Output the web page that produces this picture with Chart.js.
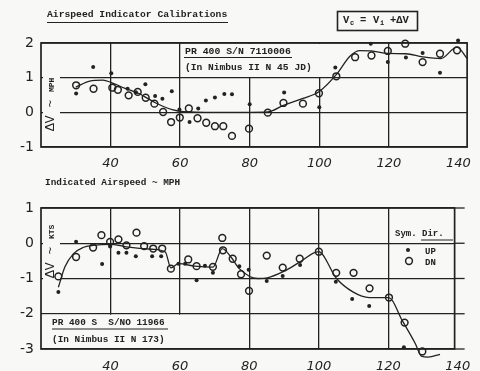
<!DOCTYPE html>
<html>
<head>
<meta charset="utf-8">
<script src="https://cdn.jsdelivr.net/npm/chart.js@4.4.1/dist/chart.umd.min.js"></script>
<style>
  html, body { margin: 0; padding: 0; background: #f8f8f6; }
  #wrap { position: relative; width: 480px; height: 371px; overflow: hidden; }
  canvas { position: absolute; left: 0; }
  #mphChart { top: 0; }
  #ktsChart { top: 190px; }
</style>
</head>
<body>
<div id="wrap">
  <canvas id="mphChart" width="480" height="190"></canvas>
  <canvas id="ktsChart" width="480" height="181"></canvas>
</div>
<script>
// indicated airspeed ticks shared by both panels
const speedTicks = [40, 60, 80, 100, 120, 140];

// upper panel, PR 400 S/N 7110006, delta V in MPH
const mphUp = [[30.1, 0.54], [35, 1.31], [40.2, 1.13], [44.9, 0.68], [47.3, 0.58], [50, 0.81],
  [52.8, 0.47], [54.9, 0.39], [57.6, 0.61], [59.8, 0.08], [62.7, -0.28], [65.2, 0.11],
  [67.4, 0.34], [70, 0.43], [72.7, 0.53], [74.9, 0.52], [80, 0.23], [89.9, 0.57],
  [100, 0.15], [104.6, 1.29], [114.8, 1.98], [119.7, 1.45], [124.9, 1.58], [129.7, 1.71],
  [134.7, 1.14], [139.9, 2.07]];
const mphDn = [[30.1, 0.78], [35.1, 0.68], [40.5, 0.71], [42.1, 0.65], [45.2, 0.49], [47.8, 0.59],
  [50.1, 0.42], [52.6, 0.25], [55.1, 0.01], [57.4, -0.28], [59.9, -0.15], [62.5, 0.11],
  [65, -0.17], [67.5, -0.3], [70, -0.4], [72.4, -0.4], [74.9, -0.68], [79.8, -0.47],
  [85.2, -0.01], [89.7, 0.27], [95.3, 0.25], [99.9, 0.55], [104.9, 1.04], [110.3, 1.59],
  [115, 1.64], [119.7, 1.77], [124.7, 1.98], [129.7, 1.45], [134.7, 1.69], [139.6, 1.79]];
const mphFit = [[30, 0.73], [34, 0.9], [37.8, 0.93], [40.2, 0.86], [44, 0.7], [48.2, 0.54],
  [53, 0.27], [57.7, 0.08], [61, 0.02], [70, 0], [80, 0], [85.2, 0.01], [89.7, 0.2],
  [95.3, 0.4], [100, 0.6], [105, 1.1], [108.8, 1.62], [111.7, 1.78], [115, 1.77],
  [119.7, 1.7], [124.9, 1.69], [129.7, 1.6], [134.9, 1.55], [139.6, 1.88], [142.5, 1.55]];

// lower panel, PR 400 S S/NO 11966, delta V in KTS
const ktsUp = [[25, -1.38], [30.1, 0.04], [37.6, -0.59], [39.9, -0.09], [42.3, -0.27], [44.6, -0.27],
  [47.3, -0.37], [52, -0.37], [54.6, -0.37], [59.6, -0.58], [61.5, -0.58], [64.8, -1.05],
  [67.2, -0.64], [69.5, -0.84], [77.1, -0.65], [79.8, -0.75], [85, -1.07], [89.6, -0.93],
  [94.6, -0.62], [104.9, -1.09], [109.6, -1.58], [114.5, -1.78], [124.5, -2.95], [129.7, -3.6]];
const ktsDn = [[25, -0.94], [30.1, -0.39], [35, -0.12], [37.4, 0.23], [39.9, 0.04], [42.3, 0.11],
  [44.6, -0.06], [47.5, 0.3], [49.7, -0.08], [52.3, -0.15], [54.9, -0.15], [57.4, -0.72],
  [62.4, -0.46], [64.8, -0.65], [69.5, -0.67], [72.2, 0.15], [72.4, -0.2], [75.2, -0.44],
  [77.6, -0.88], [79.9, -1.35], [85, -0.35], [89.6, -0.69], [94.5, -0.44], [100, -0.24],
  [105, -0.84], [110, -0.84], [114.6, -1.28], [120.2, -1.54], [124.7, -2.25], [129.8, -3.07]];
const ktsFit = [[25, -1.25], [26.9, -0.67], [29.3, -0.3], [32.1, -0.12], [35, -0.06], [40, -0.03],
  [44.6, -0.1], [52, -0.17], [55.8, -0.25], [57.4, -0.7], [59.6, -0.58], [64.3, -0.65],
  [69.5, -0.68], [72.2, -0.15], [74.7, -0.39], [77.1, -0.72], [82.3, -1], [85.2, -0.98],
  [89.9, -0.8], [94.6, -0.53], [99.9, -0.24], [105.1, -1], [109.8, -1.38], [114.5, -1.54],
  [120.2, -1.54], [124, -2.19], [127.8, -2.85], [129.5, -3.2], [131.5, -3.23], [134.9, -3.15]];

const INK = '#222';
const PAPER = '#f8f8f6';
const MONO = '"Liberation Mono", "DejaVu Sans Mono", monospace';

const toXY = pts => pts.map(([x, y]) => ({ x, y }));

function txt(ctx, s, x, y, font, align) {
  ctx.font = font;
  ctx.textAlign = align || 'left';
  ctx.textBaseline = 'middle';
  ctx.fillStyle = INK;
  ctx.fillText(s, x, y);
}

function hline(ctx, x1, x2, y, w) {
  ctx.beginPath();
  ctx.lineWidth = w || 1;
  ctx.strokeStyle = INK;
  ctx.moveTo(x1, y);
  ctx.lineTo(x2, y);
  ctx.stroke();
}

// rotated "ΔV ~ unit" label inside the plot
function sideLabel(ctx, x, yBottom, unit) {
  ctx.save();
  ctx.fillStyle = PAPER;
  ctx.fillRect(x - 8, yBottom - 66, 17, 68);
  ctx.translate(x, yBottom);
  ctx.rotate(-Math.PI / 2);
  ctx.fillStyle = INK;
  ctx.textBaseline = 'middle';
  ctx.textAlign = 'left';
  ctx.font = '13px ' + MONO;
  ctx.fillText('ΔV ~ ', 0, 0);
  const w = ctx.measureText('ΔV ~ ').width;
  ctx.font = 'bold 8px ' + MONO;
  ctx.fillText(unit, w, 1);
  ctx.restore();
}

function frame(ctx, a) {
  ctx.save();
  ctx.strokeStyle = INK;
  ctx.lineWidth = 1.7;
  ctx.strokeRect(a.left, a.top, a.right - a.left, a.bottom - a.top);
  ctx.restore();
}

function datasets(up, dn, fit) {
  return [
    {
      data: toXY(fit), showLine: true, pointRadius: 0, borderColor: INK, borderWidth: 1.3,
      cubicInterpolationMode: 'monotone', fill: false, clip: false
    },
    {
      data: toXY(up), pointRadius: 2, pointBackgroundColor: INK, pointBorderWidth: 0, clip: false
    },
    {
      data: toXY(dn), pointRadius: 3.4, pointBorderColor: INK, pointBorderWidth: 1.5,
      pointBackgroundColor: 'rgba(0,0,0,0)', clip: false
    }
  ];
}

function scales(xMax, yMin, yMax, xHeight, xPad) {
  return {
    x: {
      type: 'linear', min: 20, max: xMax,
      afterBuildTicks: s => { s.ticks = speedTicks.map(v => ({ value: v })); },
      afterFit: s => { s.height = xHeight; },
      grid: {
        drawTicks: false, lineWidth: 1.3,
        color: c => (c.tick && c.tick.value === 140) ? 'rgba(0,0,0,0)' : INK
      },
      border: { display: false },
      ticks: { color: INK, padding: xPad, font: { family: 'DejaVu Sans', style: 'italic', size: 13 } }
    },
    y: {
      min: yMin, max: yMax,
      afterFit: s => { s.width = 41; },
      grid: { drawTicks: false, lineWidth: 1.3, color: INK },
      border: { display: false },
      ticks: { stepSize: 1, color: INK, padding: 7, font: { family: 'DejaVu Sans', size: 14 } }
    }
  };
}

// upper panel
const mphDecor = {
  id: 'mphDecor',
  beforeDatasetsDraw(chart) {
    const ctx = chart.ctx;
    const a = chart.chartArea;
    ctx.save();
    // instrument label box
    ctx.fillStyle = PAPER;
    ctx.fillRect(183, a.top + 1, 138, 33);
    txt(ctx, 'PR 400 S/N 7110006', 185, 52, 'bold 9.8px ' + MONO);
    hline(ctx, 184, 292, 57.5, 1);
    txt(ctx, '(In Nimbus II N 45 JD)', 185, 67.5, 'bold 9.6px ' + MONO);
    sideLabel(ctx, 51, 131, 'MPH');
    frame(ctx, a);

    // heading and formula
    txt(ctx, 'Airspeed Indicator Calibrations', 47, 15, 'bold 9.7px ' + MONO);
    hline(ctx, 47, 228, 22.5, 1.2);
    ctx.strokeStyle = INK;
    ctx.lineWidth = 1.6;
    ctx.strokeRect(337.5, 11.5, 80, 19);
    const f = 'bold 10.5px ' + MONO;
    const fs = 'bold 7px ' + MONO;
    txt(ctx, 'V', 343, 20, f);
    txt(ctx, 'c', 350, 23, fs);
    txt(ctx, '=', 360, 20, f);
    txt(ctx, 'V', 373, 20, f);
    txt(ctx, 'i', 380, 23, fs);
    txt(ctx, '+ΔV', 390, 20, f);

    txt(ctx, 'Indicated Airspeed ~ MPH', 45, 183, 'bold 9.4px ' + MONO);
    ctx.restore();
  }
};

// lower panel
const ktsDecor = {
  id: 'ktsDecor',
  beforeDatasetsDraw(chart) {
    const ctx = chart.ctx;
    const a = chart.chartArea;
    const ys = chart.scales.y;
    ctx.save();
    ctx.fillStyle = PAPER;
    ctx.fillRect(a.left + 1, ys.getPixelForValue(-2) + 1, 139, a.bottom - ys.getPixelForValue(-2) - 2);
    txt(ctx, 'PR 400 S  S/NO 11966', 52, 133, 'bold 9.4px ' + MONO);
    hline(ctx, 52, 168, 139, 1);
    txt(ctx, '(In Nimbus II N 173)', 52, 150, 'bold 9.4px ' + MONO);
    sideLabel(ctx, 51, 88, 'KTS');
    // grid lines run a little past the right edge
    [1, 0, -1, -2, -3].forEach(v => hline(ctx, a.right, a.right + 10, ys.getPixelForValue(v), 1.3));
    frame(ctx, a);

    // symbol key
    txt(ctx, 'Sym.', 395, 44, 'bold 9px ' + MONO);
    txt(ctx, 'Dir.', 422, 44, 'bold 9px ' + MONO);
    hline(ctx, 421, 453, 50, 1);
    ctx.fillStyle = INK;
    ctx.beginPath();
    ctx.arc(408, 60, 2, 0, Math.PI * 2);
    ctx.fill();
    txt(ctx, 'UP', 425, 61.5, 'bold 9px ' + MONO);
    ctx.beginPath();
    ctx.lineWidth = 1.5;
    ctx.arc(409, 71, 3.4, 0, Math.PI * 2);
    ctx.stroke();
    txt(ctx, 'DN', 425, 73, 'bold 9px ' + MONO);
    ctx.restore();
  }
};

const common = {
  responsive: false,
  animation: false,
  plugins: { legend: { display: false }, tooltip: { enabled: false } }
};

new Chart(document.getElementById('mphChart'), {
  type: 'scatter',
  data: { datasets: datasets(mphUp, mphDn, mphFit) },
  options: Object.assign({}, common, {
    layout: { padding: { top: 43, right: 8, left: 0, bottom: 0 } },
    scales: scales(142.5, -1, 2, 43, 9)
  }),
  plugins: [mphDecor]
});

new Chart(document.getElementById('ktsChart'), {
  type: 'scatter',
  data: { datasets: datasets(ktsUp, ktsDn, ktsFit) },
  options: Object.assign({}, common, {
    layout: { padding: { top: 18, right: 20, left: 0, bottom: 0 } },
    scales: scales(139.1, -3, 1, 22, 10)
  }),
  plugins: [ktsDecor]
});
</script>
</body>
</html>
